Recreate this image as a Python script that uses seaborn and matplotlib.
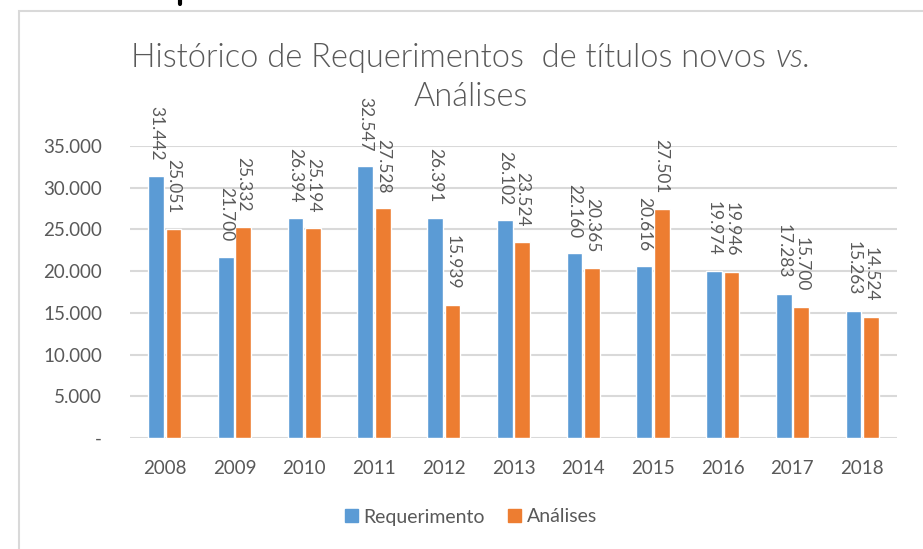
import matplotlib
matplotlib.use("Agg")
import matplotlib.pyplot as plt
from matplotlib.lines import Line2D
from matplotlib.patches import Rectangle
import pandas as pd
import seaborn as sns

# values
anos = ["2008", "2009", "2010", "2011", "2012", "2013", "2014", "2015", "2016", "2017", "2018"]
requerimento = [31442, 21700, 26394, 32547, 26391, 26102, 22160, 20616, 19974, 17283, 15263]
analises = [25051, 25332, 25194, 27528, 15939, 23524, 20365, 27501, 19946, 15700, 14524]
series = ["Requerimento", "Análises"]
yticks = [0, 5000, 10000, 15000, 20000, 25000, 30000, 35000]

df = pd.DataFrame({
    "ano": anos * 2,
    "valor": requerimento + analises,
    "serie": [series[0]] * len(anos) + [series[1]] * len(anos),
})

sns.set_style("white")
plt.rcParams["font.family"] = ["Lato", "DejaVu Sans"]
cinza = "#595959"

fig = plt.figure(figsize=(9.23, 5.49), dpi=100)
ax = fig.add_axes([130 / 923, 1 - 438 / 549, 767 / 923, 292 / 549])

sns.barplot(data=df, x="ano", y="valor", hue="serie", hue_order=series,
            palette=["#5B9BD5", "#ED7D31"], width=0.5, gap=0.1,
            saturation=1, ax=ax, zorder=3)

ax.set_ylim(0, 35000)
ax.set_yticks(yticks)
ax.set_yticklabels(["-" if v == 0 else f"{v:,}".replace(",", ".") for v in yticks])
ax.yaxis.grid(True, color="#d9d9d9", linewidth=1.5, zorder=0)
ax.set_xlabel("")
ax.set_ylabel("")
for s in ax.spines.values():
    s.set_visible(False)
ax.tick_params(axis="both", length=0, colors=cinza, labelsize=13.5)
ax.tick_params(axis="y", pad=20)
ax.tick_params(axis="x", pad=16)

# rotated data labels above each bar
for cont in ax.containers:
    for bar in cont:
        h = bar.get_height()
        ax.annotate(f"{int(h):,}".replace(",", "."),
                    (bar.get_x() + bar.get_width() / 2, h),
                    xytext=(0, 11), textcoords="offset points",
                    rotation=270, ha="center", va="bottom",
                    fontsize=12.5, color=cinza, annotation_clip=False)

ax.legend_.remove()
handles = [Rectangle((0, 0), 1, 1, color=c) for c in ["#5B9BD5", "#ED7D31"]]
fig.legend(handles, series, loc="center", bbox_to_anchor=(471 / 923, 1 - 517 / 549),
           ncol=2, frameon=False, fontsize=14, labelcolor=cinza,
           handlelength=0.65, handleheight=0.65, handletextpad=0.3, columnspacing=1.2)

# title: upright part plus italic "vs."
t1 = fig.text(0, 1 - 58 / 549, "Histórico de Requerimentos  de títulos novos ",
              ha="left", va="center", fontsize=23.5, color=cinza, fontweight=300)
t2 = fig.text(0, 1 - 58 / 549, "vs.", ha="left", va="center", fontsize=23.5,
              color=cinza, fontweight=300, style="italic")
fig.canvas.draw()
r = fig.canvas.get_renderer()
w1 = t1.get_window_extent(r).width
w2 = t2.get_window_extent(r).width
x0 = 471 - (w1 + w2) / 2
t1.set_x(x0 / 923)
t2.set_x((x0 + w1) / 923)
fig.text(471 / 923, 1 - 97 / 549, "Análises",
         ha="center", va="center", fontsize=23.5, color=cinza, fontweight=300)

# chart frame and cropped glyph at top
fig.add_artist(Rectangle((19 / 923, -0.1), 1.2, 1.1 - 11 / 549, transform=fig.transFigure,
                         fill=False, edgecolor="#d9d9d9", linewidth=1.5))
fig.add_artist(Line2D([180 / 923, 180 / 923], [1.0, 1 - 4 / 549], transform=fig.transFigure,
                      color="black", linewidth=3))

fig.savefig("out.png", dpi=100)
